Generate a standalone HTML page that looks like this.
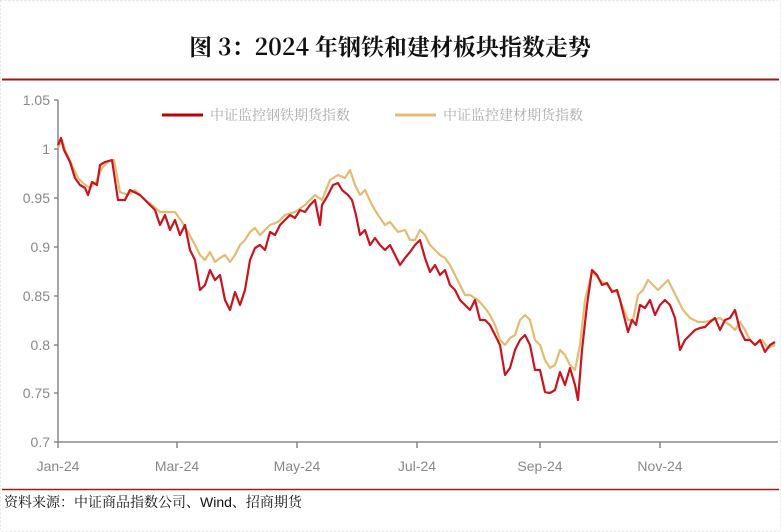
<!DOCTYPE html>
<html><head><meta charset="utf-8"><style>
body{margin:0;background:#fff;}
svg{display:block;font-family:"Liberation Sans","Noto Sans CJK SC",sans-serif;}
</style></head><body>
<svg width="781" height="532" viewBox="0 0 781 532" xmlns="http://www.w3.org/2000/svg">
<rect x="0.5" y="0.5" width="780" height="531" fill="#fff" stroke="#e4e4e4" stroke-dasharray="2,2"/>
<text x="390" y="55" text-anchor="middle" font-size="23" font-weight="bold" font-family="'Noto Serif CJK SC','Liberation Serif',serif" fill="#111">图 3：2024 年钢铁和建材板块指数走势</text>
<line x1="2" y1="79.5" x2="779" y2="79.5" stroke="#9b1b1b" stroke-width="2"/>
<line x1="2" y1="489.5" x2="779" y2="489.5" stroke="#9b1b1b" stroke-width="1.5"/>
<text x="4" y="507" font-size="14" font-family="'Noto Serif CJK SC',serif" fill="#111">资料来源：中证商品指数公司、<tspan font-family="'Liberation Sans',sans-serif">Wind</tspan>、招商期货</text>
<g stroke="#888" stroke-width="1.5" fill="none">
<line x1="58" y1="100" x2="58" y2="442"/>
<line x1="58" y1="442" x2="778" y2="442"/>
<path d="M54 100H58M54 149H58M54 198H58M54 247H58M54 296H58M54 345H58M54 393H58M54 442H58"/>
<path d="M58 442V448M177 442V448M297 442V448M417 442V448M540 442V448M660 442V448"/>
</g>
<g font-size="14" fill="#888" text-anchor="end">
<text x="50" y="105">1.05</text><text x="50" y="154">1</text><text x="50" y="203">0.95</text><text x="50" y="252">0.9</text><text x="50" y="301">0.85</text><text x="50" y="350">0.8</text><text x="50" y="398">0.75</text><text x="50" y="447">0.7</text>
</g>
<g font-size="14" fill="#888" text-anchor="middle">
<text x="58" y="471">Jan-24</text><text x="177" y="471">Mar-24</text><text x="297" y="471">May-24</text><text x="417" y="471">Jul-24</text><text x="540" y="471">Sep-24</text><text x="660" y="471">Nov-24</text>
</g>
<line x1="162" y1="115" x2="203" y2="115" stroke="#c00000" stroke-width="3"/>
<text x="210" y="120" font-size="14" fill="#aaa" font-family="'Noto Serif CJK SC',serif">中证监控钢铁期货指数</text>
<line x1="395" y1="115" x2="436" y2="115" stroke="#e3bc72" stroke-width="3"/>
<text x="443" y="120" font-size="14" fill="#aaa" font-family="'Noto Serif CJK SC',serif">中证监控建材期货指数</text>
<polyline fill="none" stroke="#e3bc72" stroke-width="2.2" stroke-linejoin="round" points="58,148 62,140 66,152 72,165 78,178 84,184 90,188 96,182 102,168 108,162 114,160 120,192 128,195 135,190 145,200 152,205 160,212 168,212 175,212 182,222 188,232 195,245 200,255 205,260 210,252 215,262 220,258 225,255 230,262 235,255 240,245 245,240 250,232 255,228 260,235 265,230 270,225 278,222 285,215 295,212 305,205 315,195 322,200 330,180 338,175 345,178 350,170 355,185 360,195 365,190 372,205 378,215 385,225 390,222 398,232 405,230 410,240 415,240 420,230 425,235 430,245 435,250 440,255 445,258 450,265 455,275 460,285 465,295 470,295 478,300 485,308 490,315 495,325 500,340 505,345 510,338 515,335 520,320 525,315 530,320 535,340 540,345 545,360 550,368 555,365 560,350 565,355 570,365 575,370 580,345 585,300 592,272 600,280 607,285 612,290 617,292 622,305 628,320 633,320 638,295 643,290 648,280 653,285 658,290 663,285 668,280 673,290 678,300 683,310 690,318 698,322 705,322 712,320 720,318 725,322 730,325 735,330 740,322 745,330 750,340 755,345 762,340 768,348 775,345"/>
<polyline fill="none" stroke="#c8141e" stroke-width="2.2" stroke-linejoin="round" points="58,145 61,138 64,150 70,162 75,178 80,185 85,188 88,195 92,182 97,185 100,165 105,162 112,160 118,200 125,200 130,190 140,195 150,205 155,210 160,225 165,215 170,230 175,220 180,235 185,225 190,250 195,260 200,290 205,285 210,270 215,280 220,275 225,300 230,310 235,292 240,305 245,290 250,260 255,248 260,245 265,250 270,232 275,235 280,225 285,220 290,215 295,218 300,210 305,212 310,205 315,200 320,225 322,205 328,195 333,185 338,183 342,190 348,195 352,200 356,215 360,235 365,230 370,245 375,238 380,245 385,250 390,245 395,255 400,265 405,258 410,252 415,245 420,240 425,258 430,272 435,265 440,275 445,270 450,285 455,290 460,300 465,305 470,310 475,300 480,320 485,320 490,325 495,335 500,345 505,375 510,368 515,350 520,340 525,335 530,345 535,370 540,370 545,392 550,393 555,390 560,372 565,385 570,368 575,385 578,400 582,350 587,305 592,270 597,275 602,285 607,283 612,292 617,290 620,300 625,320 628,332 632,320 636,325 640,305 645,308 650,300 655,315 660,305 665,300 670,305 675,318 680,350 685,340 690,335 695,330 700,328 705,327 710,322 715,318 720,330 725,320 730,318 735,310 740,330 745,340 750,340 755,345 760,340 765,352 770,345 775,342"/>
</svg>
</body></html>
